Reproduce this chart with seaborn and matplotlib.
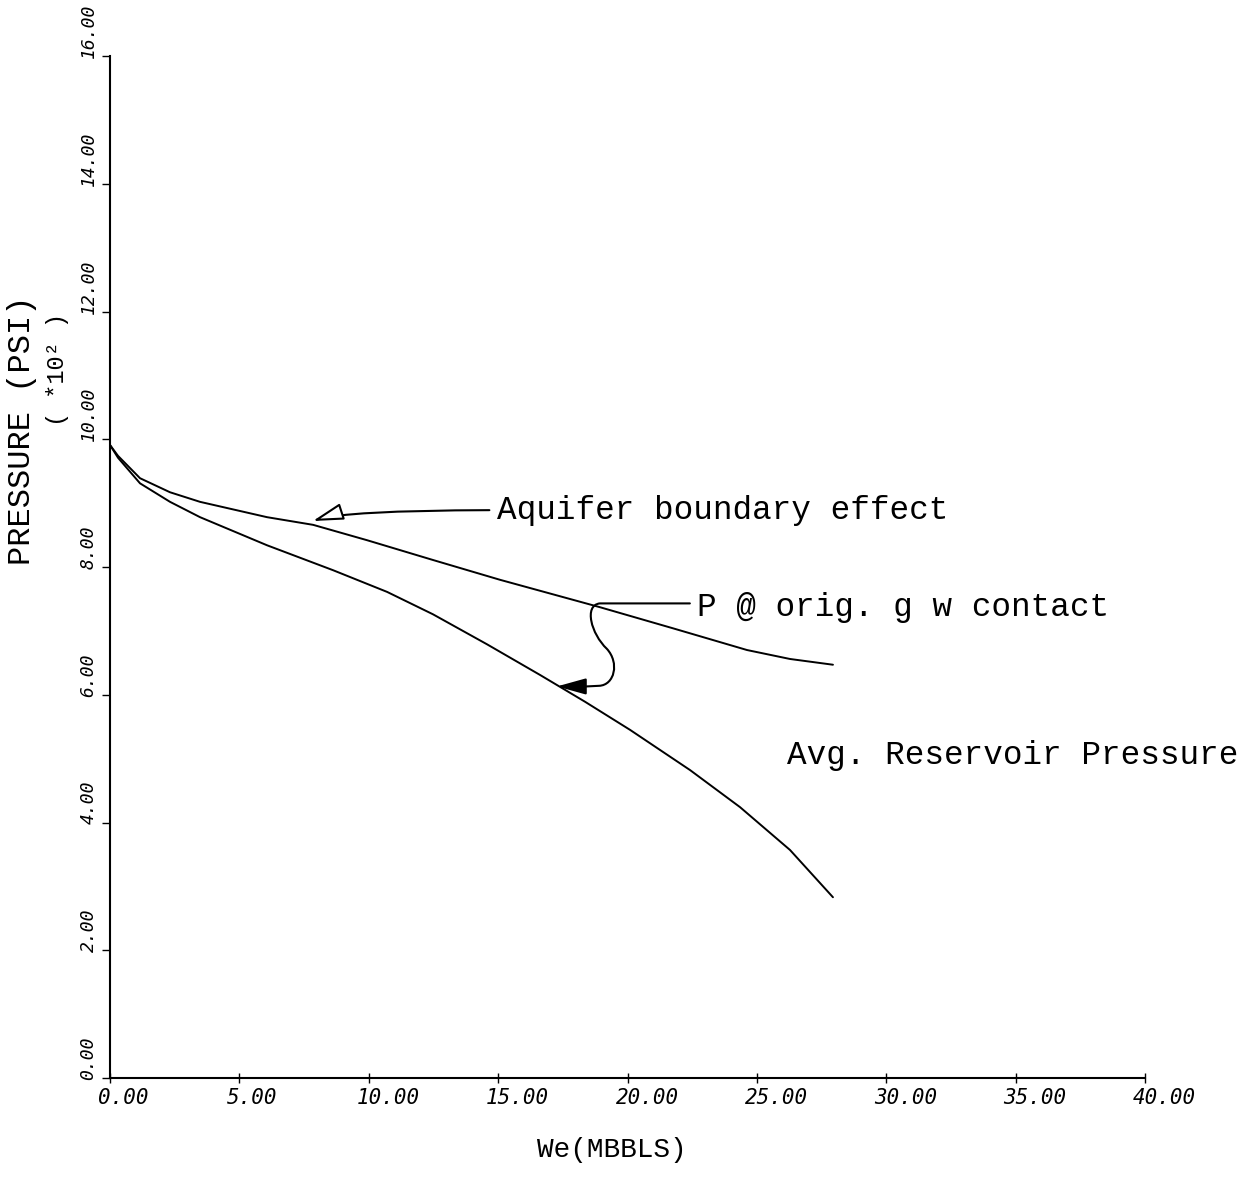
import numpy as np
import pandas as pd
import matplotlib
matplotlib.use("Agg")
import matplotlib.pyplot as plt
import seaborn as sns
from matplotlib.path import Path
from matplotlib.patches import FancyArrowPatch
import matplotlib.transforms as mtransforms

# ---- data ----
we_contact = [0, 0.31, 1.16, 2.32, 3.48, 6.07, 7.85, 9.93, 12.48, 15.07, 18.94, 21.76, 24.62, 26.28, 27.94]
p_contact = [9.91, 9.74, 9.39, 9.17, 9.02, 8.78, 8.66, 8.42, 8.11, 7.80, 7.37, 7.04, 6.70, 6.56, 6.47]

we_avg = [0, 0.31, 1.16, 2.32, 3.48, 6.07, 8.62, 10.71, 12.48, 14.57, 16.62, 18.36, 20.10, 22.42, 24.35, 26.28, 27.94]
p_avg = [9.91, 9.71, 9.31, 9.02, 8.78, 8.34, 7.95, 7.61, 7.26, 6.79, 6.31, 5.89, 5.45, 4.82, 4.24, 3.57, 2.83]

x_ticks = [0, 5, 10, 15, 20, 25, 30, 35, 40]
x_ticklabels = ["0.00", "5.00", "10.00", "15.00", "20.00", "25.00", "30.00", "35.00", "40.00"]
y_ticks = [0, 2, 4, 6, 8, 10, 12, 14, 16]
y_ticklabels = ["0.00", "2.00", "4.00", "6.00", "8.00", "10.00", "12.00", "14.00", "16.00"]

df = pd.concat([
    pd.DataFrame({"We": we_contact, "P": p_contact, "series": "contact"}),
    pd.DataFrame({"We": we_avg, "P": p_avg, "series": "avg"}),
], ignore_index=True)

sns.set_theme(style="white")
plt.rcParams["font.family"] = ["DejaVu Sans Mono", "DejaVu Sans"]
plt.rcParams["text.color"] = "black"
plt.rcParams["xtick.color"] = "black"
plt.rcParams["ytick.color"] = "black"
plt.rcParams["axes.labelcolor"] = "black"

W, H = 1256, 1193
fig = plt.figure(figsize=(W / 100, H / 100), dpi=100)
ax = fig.add_axes([110 / W, 1 - 1078 / H, (1145 - 110) / W, (1078 - 56) / H])

sns.lineplot(data=df, x="We", y="P", hue="series", palette=["black", "black"],
             estimator=None, sort=False, legend=False, linewidth=1.4, ax=ax)

ax.set_xlim(0, 40)
ax.set_ylim(0, 16)
for s in ["top", "right"]:
    ax.spines[s].set_visible(False)
for s in ["left", "bottom"]:
    ax.spines[s].set_color("black")
    ax.spines[s].set_linewidth(1.5)

ax.set_xlabel("")
ax.set_ylabel("")
ax.set_xticks(x_ticks)
ax.set_xticklabels(x_ticklabels, ha="left", fontsize=15, fontstyle="oblique")
ax.set_yticks(y_ticks)
ax.set_yticklabels(y_ticklabels, rotation=90, va="bottom", ha="right", fontsize=13, fontstyle="oblique")
ax.tick_params(axis="x", direction="inout", length=7, width=1, pad=4)
ax.tick_params(axis="y", direction="out", length=6, width=1, pad=3)
ax.xaxis.set_tick_params(bottom=True)
ax.yaxis.set_tick_params(left=True)
offx = mtransforms.ScaledTranslation(-12 / 100, 0, fig.dpi_scale_trans)
for lab in ax.get_xticklabels():
    lab.set_transform(lab.get_transform() + offx)
offy = mtransforms.ScaledTranslation(0, -2 / 100, fig.dpi_scale_trans)
for lab in ax.get_yticklabels():
    lab.set_transform(lab.get_transform() + offy)

mono = "Liberation Mono"
fig.text(612 / W, 1 - 1150 / H, "We(MBBLS)", family=mono, fontsize=20, ha="center", va="center")
fig.text(22 / W, 1 - 430 / H, "PRESSURE (PSI)", family=mono, fontsize=23, rotation=90, ha="center", va="center")
fig.text(58 / W, 1 - 370 / H, "( *10² )", family=mono, fontsize=17, rotation=90, ha="center", va="center")

# annotations
ax.annotate("Aquifer boundary effect", xy=(7.84, 8.72), xytext=(14.95, 8.89),
            family=mono, fontsize=23.5, ha="left", va="center",
            arrowprops=dict(arrowstyle="-|>,head_length=0.8,head_width=0.22", fc="white", ec="black",
                            lw=1.5, shrinkA=3, shrinkB=0, relpos=(0, 0.5),
                            connectionstyle="angle3,angleA=0,angleB=18"))

ax.text(22.68, 7.36, "P @ orig. g w contact", family=mono, fontsize=23.5, ha="left", va="center")
ax.text(26.16, 5.05, "Avg. Reservoir Pressure", family=mono, fontsize=23.5, ha="left", va="center")

verts = [(22.41, 7.43), (20.5, 7.43), (19.3, 7.43), (18.93, 7.43),
         (18.3, 7.40), (18.6, 6.95), (19.2, 6.72),
         (19.7, 6.50), (19.5, 6.15), (18.9, 6.14),
         (18.4, 6.13), (17.8, 6.13), (17.27, 6.13)]
codes = [Path.MOVETO, Path.LINETO, Path.LINETO, Path.LINETO,
         Path.CURVE4, Path.CURVE4, Path.CURVE4,
         Path.CURVE4, Path.CURVE4, Path.CURVE4,
         Path.LINETO, Path.LINETO, Path.LINETO]
arr = FancyArrowPatch(path=Path(verts, codes), arrowstyle="-|>,head_length=0.9,head_width=0.25",
                      fc="black", ec="black", lw=1.5, transform=ax.transData,
                      shrinkA=0, shrinkB=0, mutation_scale=20)
ax.add_patch(arr)

fig.savefig("out.png", dpi=100)
